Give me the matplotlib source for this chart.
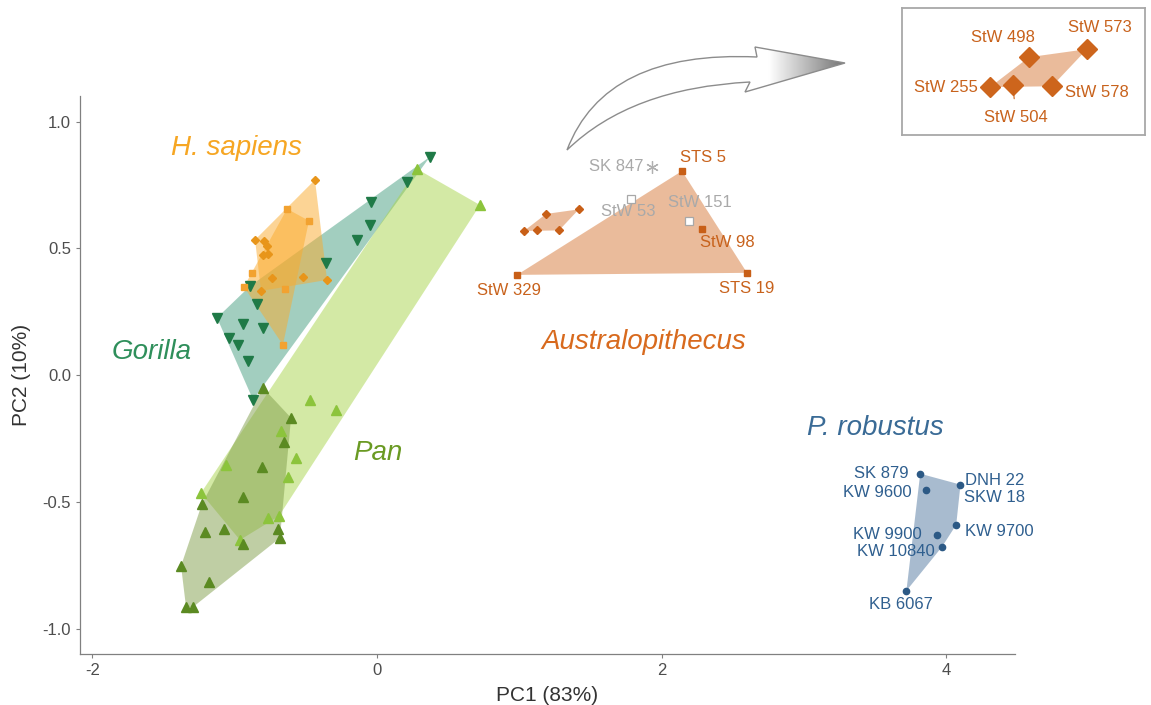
import matplotlib.pyplot as plt
import numpy as np
from matplotlib.path import Path
from matplotlib.patches import PathPatch
from matplotlib.colors import LinearSegmentedColormap

plt.rcParams['font.family'] = ['Liberation Sans', 'DejaVu Sans']
plt.rcParams['axes.unicode_minus'] = False

# PC scores, one small list per group and marker type
sap_dia_pc1 = [-0.436, -0.857, -0.794, -0.773, -0.801, -0.766, -0.738, -0.520, -0.351, -0.815]
sap_dia_pc2 = [0.770, 0.534, 0.530, 0.510, 0.474, 0.478, 0.384, 0.388, 0.376, 0.333]
sap_sq_pc1 = [-0.632, -0.478, -0.878, -0.935, -0.647, -0.661]
sap_sq_pc2 = [0.656, 0.609, 0.404, 0.349, 0.341, 0.120]

gor_pc1 = [0.372, 0.211, -0.042, -0.049, -0.141, -0.358, -0.892, -0.843, -1.124,
           -0.942, -0.801, -1.040, -0.977, -0.907, -0.871]
gor_pc2 = [0.861, 0.763, 0.684, 0.593, 0.534, 0.443, 0.352, 0.282, 0.227,
           0.203, 0.187, 0.148, 0.120, 0.057, -0.096]

pan1_pc1 = [0.281, 0.724, -0.471, -0.288, -0.569, -0.626, -1.237, -0.689, -0.766,
            -0.963, -1.061, -0.675]
pan1_pc2 = [0.813, 0.671, -0.096, -0.136, -0.325, -0.400, -0.463, -0.554, -0.562,
            -0.648, -0.351, -0.219]
pan2_pc1 = [-0.801, -0.604, -0.654, -0.808, -0.942, -1.230, -1.075, -1.209, -0.942,
            -0.682, -1.377, -1.181, -1.342, -1.293, -0.696]
pan2_pc2 = [-0.049, -0.167, -0.262, -0.360, -0.478, -0.506, -0.605, -0.617, -0.664,
            -0.640, -0.750, -0.813, -0.912, -0.912, -0.605]

aus_sq_names = ['STS 5', 'StW 98', 'STS 19', 'StW 329']
aus_sq_pc1 = [2.143, 2.284, 2.600, 0.984]
aus_sq_pc2 = [0.805, 0.577, 0.404, 0.396]
aus_grey_names = ['StW 53', 'StW 151']
aus_grey_pc1 = [1.785, 2.193]
aus_grey_pc2 = [0.695, 0.608]
sk847_pc = (1.933, 0.821)
aus_dia_names = ['StW 255', 'StW 504', 'StW 498', 'StW 578', 'StW 573']
aus_dia_pc1 = [1.033, 1.124, 1.188, 1.279, 1.418]
aus_dia_pc2 = [0.569, 0.573, 0.636, 0.571, 0.654]

rob_names = ['SK 879', 'KW 9600', 'DNH 22', 'KW 9700', 'KW 9900', 'KW 10840', 'KB 6067']
rob_pc1 = [3.817, 3.860, 4.100, 4.070, 3.935, 3.970, 3.720]
rob_pc2 = [-0.387, -0.450, -0.430, -0.588, -0.627, -0.675, -0.848]


def convex_hull(xs, ys):
    pts = sorted(set(zip(xs, ys)))

    def cross(o, a, b):
        return (a[0] - o[0]) * (b[1] - o[1]) - (a[1] - o[1]) * (b[0] - o[0])

    lower, upper = [], []
    for p in pts:
        while len(lower) >= 2 and cross(lower[-2], lower[-1], p) <= 0:
            lower.pop()
        lower.append(p)
    for p in reversed(pts):
        while len(upper) >= 2 and cross(upper[-2], upper[-1], p) <= 0:
            upper.pop()
        upper.append(p)
    return np.array(lower[:-1] + upper[:-1])


def draw_hull(ax, xs, ys, color, alpha=0.5, z=1):
    h = convex_hull(xs, ys)
    ax.fill(h[:, 0], h[:, 1], color=color, alpha=alpha, lw=0, zorder=z)


fig = plt.figure(figsize=(11.51, 7.05), dpi=100)
ax = fig.add_axes([80 / 1151, 1 - 654 / 705, 935 / 1151, 558.4 / 705])

# hulls
draw_hull(ax, gor_pc1, gor_pc2, '#479f81')
draw_hull(ax, pan1_pc1, pan1_pc2, '#a9d54d')
draw_hull(ax, pan2_pc1, pan2_pc2, '#819f4b')
draw_hull(ax, sap_sq_pc1, sap_sq_pc2, '#fbab2d')
draw_hull(ax, sap_dia_pc1, sap_dia_pc2, '#fbab2d')
draw_hull(ax, aus_sq_pc1, aus_sq_pc2, '#d77939')
draw_hull(ax, aus_dia_pc1, aus_dia_pc2, '#d77939')
draw_hull(ax, rob_pc1, rob_pc2, '#5379a1')

# points
ax.plot(gor_pc1, gor_pc2, 'v', color='#1f7a47', ms=6.5, zorder=3)
ax.plot(pan1_pc1, pan1_pc2, '^', color='#8cc43c', ms=6.5, zorder=3)
ax.plot(pan2_pc1, pan2_pc2, '^', color='#5b8a22', ms=6.5, zorder=3)
ax.plot(sap_sq_pc1, sap_sq_pc2, 's', color='#f2a230', ms=5, zorder=3)
ax.plot(sap_dia_pc1, sap_dia_pc2, 'D', color='#e8951a', ms=4.5, zorder=3)
ax.plot(aus_sq_pc1, aus_sq_pc2, 's', color='#c85f17', ms=4.5, zorder=3)
ax.plot(aus_dia_pc1, aus_dia_pc2, 'D', color='#c85f17', ms=4.5, zorder=3)
ax.plot(aus_grey_pc1, aus_grey_pc2, 's', mfc='white', mec='#a8a8a8', mew=0.9, ms=5.5, zorder=3)
ax.plot(*sk847_pc, marker=(6, 2, 0), color='#b0b0b0', ms=9, mew=0.9, zorder=3)
ax.plot(rob_pc1, rob_pc2, 'o', color='#2c5985', ms=4.5, zorder=3)

# specimen labels
lab = dict(textcoords='offset points', fontsize=12, va='center', zorder=4)
aus_offsets = {'STS 5': (15, 9.4, 'center'), 'StW 98': (18, -10, 'center'),
               'STS 19': (0, -11, 'center'), 'StW 329': (-6, -11.5, 'center')}
for n, x, y in zip(aus_sq_names, aus_sq_pc1, aus_sq_pc2):
    dx, dy, ha = aus_offsets[n]
    ax.annotate(n, (x, y), xytext=(dx, dy), ha=ha, color='#c8621c', **lab)
grey_offsets = {'StW 53': (-2, -9), 'StW 151': (8, 13)}
for n, x, y in zip(aus_grey_names, aus_grey_pc1, aus_grey_pc2):
    dx, dy = grey_offsets[n]
    ax.annotate(n, (x, y), xytext=(dx, dy), ha='center', color='#a9a9a9', **lab)
ax.annotate('SK 847', sk847_pc, xytext=(-6.5, 0), ha='right', color='#a9a9a9', **lab)

rob_offsets = {'SK 879': (-8.6, 0, 'right'), 'KW 9600': (-10.8, -2, 'right'),
               'DNH 22': (2.9, 2.9, 'left'), 'KW 9700': (6.5, -5, 'left'),
               'KW 9900': (-11, 0, 'right'), 'KW 10840': (-5, -3.6, 'right'),
               'KB 6067': (-4.3, -10, 'center')}
for n, x, y in zip(rob_names, rob_pc1, rob_pc2):
    dx, dy, ha = rob_offsets[n]
    ax.annotate(n, (x, y), xytext=(dx, dy), ha=ha, color='#2f5f8f', **lab)
ax.annotate('SKW 18', (rob_pc1[2], rob_pc2[2]), xytext=(2.2, -9.6), ha='left',
            color='#2f5f8f', **lab)

# group names
grp = dict(fontsize=20, style='italic', ha='center', va='center')
ax.text(-0.991, 0.896, 'H. sapiens', color='#f6a623', **grp)
ax.text(-1.581, 0.093, 'Gorilla', color='#2f8f5b', **grp)
ax.text(0.007, -0.305, 'Pan', color='#6a9a23', **grp)
ax.text(1.876, 0.132, 'Australopithecus', color='#d86a1e', **grp)
ax.text(3.500, -0.207, 'P. robustus', color='#3a6b96', **grp)

ax.set_xlim(-2.087, 4.483)
ax.set_ylim(-1.097, 1.102)
ax.set_xticks([-2, 0, 2, 4])
ax.set_yticks([-1.0, -0.5, 0.0, 0.5, 1.0])
ax.set_yticklabels(['-1.0', '-0.5', '0.0', '0.5', '1.0'])
for s in ('top', 'right'):
    ax.spines[s].set_visible(False)
for s in ('left', 'bottom'):
    ax.spines[s].set_color('#808080')
    ax.spines[s].set_linewidth(0.9)
ax.tick_params(colors='#808080', labelcolor='#4d4d4d', labelsize=12, length=3)
ax.set_xlabel('PC1 (83%)', fontsize=15, color='#333333', labelpad=6)
ax.set_ylabel('PC2 (10%)', fontsize=15, color='#333333', labelpad=8)

# enlarged view of the StW diamonds
ax_in = fig.add_axes([902 / 1151, 1 - 135 / 705, 243 / 1151, 127 / 705])
draw_hull(ax_in, aus_dia_pc1, aus_dia_pc2, '#d77939')
ax_in.plot(aus_dia_pc1, aus_dia_pc2, 'D', color='#cd651c', ms=10, zorder=3)
ax_in.set_xlim(0.684, 1.648)
ax_in.set_ylim(0.462, 0.746)
ax_in.set_xticks([])
ax_in.set_yticks([])
for s in ax_in.spines.values():
    s.set_color('#a8a8a8')
    s.set_linewidth(1.3)
in_offsets = {'StW 255': (-9, 0, 'right'), 'StW 504': (2.2, -23, 'center'),
              'StW 498': (-18.7, 14.4, 'center'), 'StW 578': (9.4, -4.3, 'left'),
              'StW 573': (9.4, 15.8, 'center')}
for n, x, y in zip(aus_dia_names, aus_dia_pc1, aus_dia_pc2):
    dx, dy, ha = in_offsets[n]
    kw = {}
    if n == 'StW 504':
        kw['arrowprops'] = dict(arrowstyle='-', color='#c8621c', lw=0.8, shrinkA=6, shrinkB=4)
    ax_in.annotate(n, (x, y), xytext=(dx, dy), ha=ha, color='#c8621c', **lab, **kw)

# curved pointer towards the enlarged view, drawn in pixel space
ov = fig.add_axes([0, 0, 1, 1], zorder=5)
ov.set_xlim(0, 1151)
ov.set_ylim(705, 0)
ov.axis('off')
ov.patch.set_alpha(0)
verts = [(567, 150), (605, 50), (757, 57), (755, 47), (845, 63), (745, 92),
         (750, 82), (631, 88), (567, 150), (567, 150)]
codes = [Path.MOVETO, Path.CURVE3, Path.CURVE3, Path.LINETO, Path.LINETO, Path.LINETO,
         Path.LINETO, Path.CURVE3, Path.CURVE3, Path.CLOSEPOLY]
arrow_path = Path(verts, codes)
body = PathPatch(arrow_path, facecolor='white', edgecolor='none', zorder=1)
ov.add_patch(body)
shade = LinearSegmentedColormap.from_list('shade', ['#ffffff', '#ffffff', '#6e6e6e'])
grad = ov.imshow(np.linspace(0, 1, 256)[None, :], cmap=shade, extent=(690, 848, 110, 40),
                 aspect='auto', zorder=2, interpolation='bilinear')
grad.set_clip_path(body)
ov.add_patch(PathPatch(arrow_path, facecolor='none', edgecolor='#8c8c8c', lw=1.0, zorder=3))
ov.set_xlim(0, 1151)
ov.set_ylim(705, 0)

fig.savefig('out.png', dpi=100, facecolor='white')
